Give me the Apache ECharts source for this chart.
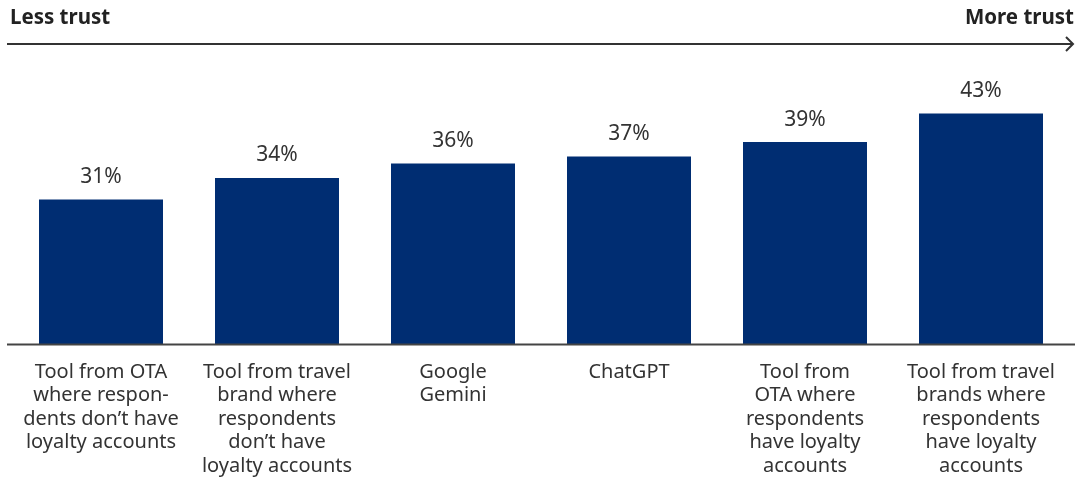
<!DOCTYPE html>
<html>
<head>
<meta charset="utf-8">
<script src="https://cdn.jsdelivr.net/npm/echarts@6/dist/echarts.min.js"></script>
<style>
html,body{margin:0;padding:0;background:#fff;}
#c{width:1081px;height:480px;}
</style>
</head>
<body>
<div id="c"></div>
<script>
const categories = [
  "Tool from OTA\nwhere respon-\ndents don’t have\nloyalty accounts",
  "Tool from travel\nbrand where\nrespondents\ndon’t have\nloyalty accounts",
  "Google\nGemini",
  "ChatGPT",
  "Tool from\nOTA where\nrespondents\nhave loyalty\naccounts",
  "Tool from travel\nbrands where\nrespondents\nhave loyalty\naccounts"
];
const trustValues = [31, 34, 36, 37, 39, 43];
const leftLabel = "Less trust";
const rightLabel = "More trust";

const FONT = "'Noto Sans', 'Open Sans', sans-serif";
const chart = echarts.init(document.getElementById('c'), null, {renderer: 'canvas'});
chart.setOption({
  animation: false,
  backgroundColor: '#ffffff',
  grid: {left: 13, right: 12, top: 100.6, bottom: 136, containLabel: false},
  xAxis: {
    type: 'category',
    data: categories,
    axisLine: {show: false},
    axisTick: {show: false},
    axisLabel: {
      interval: 0,
      margin: 16,
      color: '#333333',
      fontFamily: FONT,
      fontSize: 20,
      lineHeight: 23.6,
      align: 'center',
      verticalAlign: 'top'
    }
  },
  yAxis: {
    type: 'value',
    min: 10.8,
    max: 44.8,
    show: false,
    splitLine: {show: false}
  },
  series: [{
    type: 'bar',
    data: trustValues,
    barWidth: 124,
    itemStyle: {color: '#002D72'},
    label: {
      show: true,
      position: 'top',
      distance: 12,
      formatter: '{c}%',
      color: '#333333',
      fontFamily: FONT,
      fontSize: 21
    }
  }],
  graphic: [
    {type: 'text', left: 10, top: 8, style: {text: leftLabel, fontFamily: FONT, fontWeight: 'bold', fontSize: 20.5, fill: '#222222'}},
    {type: 'text', right: 7, top: 8, style: {text: rightLabel, fontFamily: FONT, fontWeight: 'bold', fontSize: 20.5, fill: '#222222'}},
    {type: 'line', shape: {x1: 7, y1: 44, x2: 1073, y2: 44}, style: {stroke: '#333333', lineWidth: 2}},
    {type: 'polyline', shape: {points: [[1066, 37], [1073, 44], [1066, 51]]}, style: {stroke: '#333333', lineWidth: 2, fill: null}},
    {type: 'line', shape: {x1: 7, y1: 344.5, x2: 1075, y2: 344.5}, style: {stroke: '#444444', lineWidth: 2}, z: 100}
  ]
});
</script>
</body>
</html>
